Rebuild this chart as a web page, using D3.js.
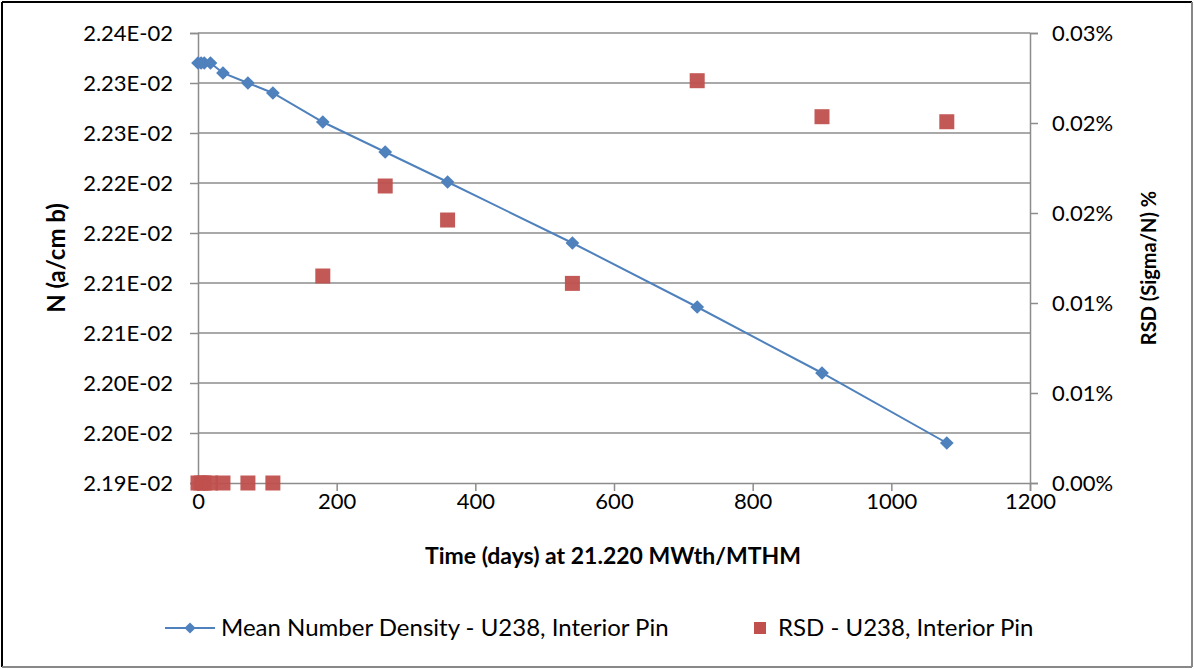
<!DOCTYPE html>
<html>
<head>
<meta charset="utf-8">
<script src="https://cdn.jsdelivr.net/npm/d3@7"></script>
<style>
  html, body { margin: 0; padding: 0; background: #fff; }
  svg text { font-family: "Lato", "Open Sans", sans-serif; fill: #000; }
</style>
</head>
<body>
<svg id="chart" width="1194" height="669"></svg>
<script>
// ---- data ----
const days = [0, 4.5, 9, 18, 36, 72, 108, 180, 270, 360, 540, 720, 900, 1080];
const meanDensity = [0.022320, 0.022320, 0.022320, 0.022320, 0.022310, 0.022300, 0.022290,
                     0.022261, 0.022231, 0.022201, 0.022140, 0.022076, 0.022010, 0.021940];
const rsdPercent = [0, 0, 0, 0, 0, 0, 0, 0.01150, 0.01650, 0.01461, 0.01109, 0.02235, 0.02035, 0.02007];
const leftTicks = [0.02190, 0.02195, 0.02200, 0.02205, 0.02210, 0.02215, 0.02220, 0.02225, 0.02230, 0.02235];
const leftTickLabels = ["2.19E-02", "2.20E-02", "2.20E-02", "2.21E-02", "2.21E-02",
                        "2.22E-02", "2.22E-02", "2.23E-02", "2.23E-02", "2.24E-02"];
const rightTicks = [0, 0.005, 0.010, 0.015, 0.020, 0.025];
const rightTickLabels = ["0.00%", "0.01%", "0.01%", "0.02%", "0.02%", "0.03%"];
const xTicks = [0, 200, 400, 600, 800, 1000, 1200];
const seriesNames = ["Mean Number Density - U238, Interior Pin", "RSD - U238, Interior Pin"];
const titles = { x: "Time (days) at 21.220 MWth/MTHM", yLeft: "N (a/cm b)", yRight: "RSD (Sigma/N) %" };

// ---- layout ----
const W = 1194, H = 669;
const plot = { left: 198, right: 1030, top: 33, bottom: 483 };
const blue = "#4F81BD", red = "#C0504D", grid = "#8C8C8C";

const svg = d3.select("#chart");

// outer frame
svg.append("rect").attr("x", 0).attr("y", 0).attr("width", W).attr("height", H).attr("fill", "#fff");
svg.append("line").attr("x1", 2).attr("y1", 2).attr("x2", 1192).attr("y2", 2).attr("stroke", "#000").attr("stroke-width", 2);
svg.append("line").attr("x1", 2).attr("y1", 2).attr("x2", 2).attr("y2", 667).attr("stroke", "#000").attr("stroke-width", 2);
svg.append("line").attr("x1", 1192).attr("y1", 2).attr("x2", 1192).attr("y2", 667).attr("stroke", "#888").attr("stroke-width", 2);
svg.append("line").attr("x1", 2).attr("y1", 667).attr("x2", 1192).attr("y2", 667).attr("stroke", "#888").attr("stroke-width", 2);

const x = d3.scaleLinear().domain([0, 1200]).range([plot.left, plot.right]);
const yL = d3.scaleLinear().domain([0.02190, 0.02235]).range([plot.bottom, plot.top]);
const yR = d3.scaleLinear().domain([0, 0.025]).range([plot.bottom, plot.top]);

// gridlines
svg.append("g").selectAll("line").data(leftTicks.slice(1)).join("line")
  .attr("x1", plot.left).attr("x2", plot.right)
  .attr("y1", d => yL(d)).attr("y2", d => yL(d))
  .attr("stroke", grid).attr("stroke-width", 1.5);

// axes
function styleAxis(g) {
  g.select(".domain").attr("stroke", grid).attr("stroke-width", 1.5);
  g.selectAll(".tick line").attr("stroke", grid).attr("stroke-width", 1.5);
  g.selectAll(".tick text").style("font-size", "22px");
}
const leftAxis = d3.axisLeft(yL).tickValues(leftTicks)
  .tickFormat((d, i) => leftTickLabels[i]).tickSizeOuter(0).tickSize(8).tickPadding(17);
svg.append("g").attr("transform", `translate(${plot.left},0)`).call(leftAxis).call(styleAxis);

const rightAxis = d3.axisRight(yR).tickValues(rightTicks)
  .tickFormat((d, i) => rightTickLabels[i]).tickSizeOuter(0).tickSize(8).tickPadding(14);
svg.append("g").attr("transform", `translate(${plot.right},0)`).call(rightAxis).call(styleAxis);

const bottomAxis = d3.axisBottom(x).tickValues(xTicks).tickFormat(d3.format("d"))
  .tickSizeOuter(0).tickSize(8).tickPadding(2);
svg.append("g").attr("transform", `translate(0,${plot.bottom})`).call(bottomAxis).call(styleAxis)
  .selectAll(".tick text").attr("dy", "0.71em");

// titles
svg.append("text").attr("x", 613).attr("y", 564).attr("text-anchor", "middle")
  .style("font-size", "23px").style("font-weight", "bold").text(titles.x);
svg.append("text").attr("transform", "translate(65,258) rotate(-90)").attr("text-anchor", "middle")
  .style("font-size", "24px").style("font-weight", "bold").text(titles.yLeft);
svg.append("text").attr("transform", "translate(1156,268) rotate(-90)").attr("text-anchor", "middle")
  .style("font-size", "20px").style("font-weight", "bold").text(titles.yRight);

// series 1: line + diamonds
const pts1 = days.map((d, i) => [d, meanDensity[i]]);
svg.append("path").datum(pts1)
  .attr("d", d3.line().x(d => x(d[0])).y(d => yL(d[1])))
  .attr("fill", "none").attr("stroke", blue).attr("stroke-width", 2);
const diamond = d3.symbol().type(d3.symbolDiamond2).size(120);
svg.append("g").selectAll("path").data(pts1).join("path")
  .attr("d", diamond)
  .attr("transform", d => `translate(${x(d[0])},${yL(d[1])})`)
  .attr("fill", blue);

// series 2: squares
const pts2 = days.map((d, i) => [d, rsdPercent[i]]);
const sq = 15;
svg.append("g").selectAll("rect").data(pts2).join("rect")
  .attr("x", d => x(d[0]) - sq / 2).attr("y", d => yR(d[1]) - sq / 2)
  .attr("width", sq).attr("height", sq)
  .attr("fill", red).attr("fill-opacity", 0.95);

// legend
const ly = 628;
svg.append("line").attr("x1", 165).attr("x2", 215).attr("y1", ly).attr("y2", ly)
  .attr("stroke", blue).attr("stroke-width", 2);
svg.append("path").attr("d", d3.symbol().type(d3.symbolDiamond2).size(80))
  .attr("transform", `translate(190,${ly})`).attr("fill", blue);
svg.append("text").attr("x", 221).attr("y", ly).attr("dy", "0.35em")
  .style("font-size", "24px").text(seriesNames[0]);
svg.append("rect").attr("x", 754).attr("y", ly - 6).attr("width", 12).attr("height", 12).attr("fill", red);
svg.append("text").attr("x", 778).attr("y", ly).attr("dy", "0.35em")
  .style("font-size", "24px").text(seriesNames[1]);
</script>
</body>
</html>
